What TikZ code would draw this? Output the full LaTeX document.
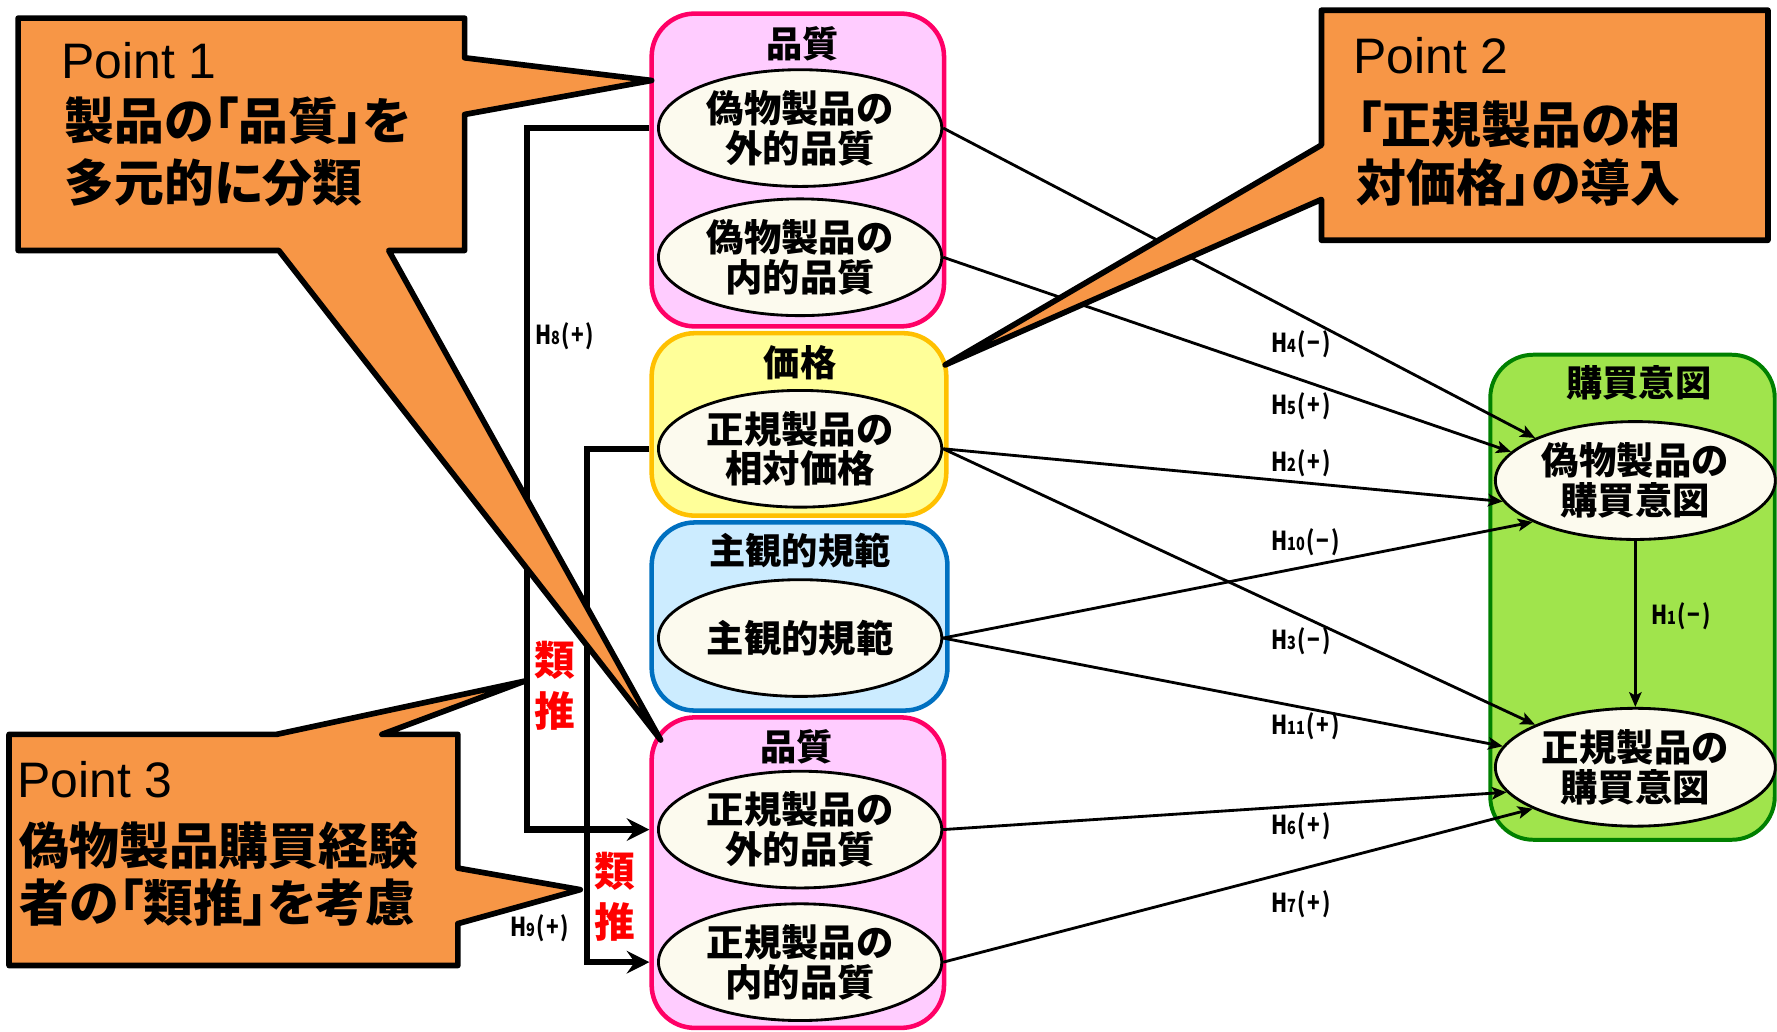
\documentclass[tikz,border=0pt]{standalone}
\usepackage{fontspec}
\setmainfont{Noto Sans CJK JP}
\newfontfamily\callfont{Noto Sans CJK JP}[RawFeature=+palt]
\newfontfamily\ptfont{Liberation Sans}
\newfontfamily\labfont{Noto Sans CJK JP}[FakeStretch=0.8]
\usetikzlibrary{shapes.geometric,arrows.meta}
\definecolor{orangeC}{HTML}{F79646}
\definecolor{pinkF}{HTML}{FFCCFF}
\definecolor{pinkD}{HTML}{FF0066}
\definecolor{yelF}{HTML}{FFFF99}
\definecolor{yelD}{HTML}{FFC000}
\definecolor{bluF}{HTML}{CCECFF}
\definecolor{bluD}{HTML}{0070C0}
\definecolor{grnF}{HTML}{A0E44C}
\definecolor{grnD}{HTML}{008000}
\definecolor{ellF}{HTML}{FCFAEE}
\newcommand{\hsub}[1]{{\fontsize{16}{16}\selectfont #1}}
\newcommand{\hpm}[1]{\kern1pt(\kern1.5pt#1\kern1.5pt)}
\begin{document}
\begin{tikzpicture}[x=1pt,y=-1pt,
  box/.style={draw, line width=4pt, rounded corners=38pt, inner sep=0pt},
  qbox/.style={box, draw=pinkD, fill=pinkF},
  pbox/.style={box, draw=yelD, fill=yelF},
  sbox/.style={box, draw=bluD, fill=bluF},
  gbox/.style={box, draw=grnD, fill=grnF, line width=3.5pt},
  ell/.style={ellipse, draw=black, line width=2.5pt, fill=ellF, minimum width=250pt, minimum height=103pt, inner sep=0pt, align=center, font=\bfseries\fontsize{33}{35}\selectfont},
  ttl/.style={font=\bfseries\fontsize{32}{32}\selectfont, inner sep=0pt},
  conn/.style={line width=2.5pt, -{Stealth[length=13pt,width=11pt,inset=3pt]}},
  bigarr/.style={line width=5.5pt, -{Stealth[length=20pt,width=20pt,inset=7pt]}},
  hlab/.style={font=\labfont\bfseries\fontsize{23}{23}\selectfont, inner sep=0pt, anchor=base west},
  callout/.style={draw=black, fill=orangeC, line width=5pt, line join=round},
  pt/.style={font=\ptfont\fontsize{44}{44}\selectfont, inner sep=0pt, anchor=base west},
  jl/.style={font=\callfont\bfseries\fontsize{44}{44}\selectfont, inner sep=0pt, anchor=base west},
  rui/.style={text=red, align=center, font=\bfseries\fontsize{36}{45}\selectfont, inner sep=0pt},
]
\useasboundingbox (0,0) rectangle (1568,910);

% group boxes
\node[qbox, minimum width=258pt, minimum height=276pt] (q1) at (704,150) {};
\node[pbox, minimum width=260pt, minimum height=161pt] (pr) at (705,374.5) {};
\node[sbox, minimum width=261pt, minimum height=166pt] (sn) at (705.5,544) {};
\node[qbox, minimum width=258pt, minimum height=274pt] (q2) at (704,770) {};
\node[gbox, minimum width=251pt, minimum height=428pt] (gr) at (1440.5,527) {};

% titles
\node[ttl] (t1) at (708,39) {品質};
\node[ttl] (t2) at (706,320) {価格};
\node[ttl] (t3) at (706,486) {主観的規範};
\node[ttl] (t4) at (703,659) {品質};
\node[ttl] (t5) at (1446,338) {購買意図};

% ellipses
\node[ell] (e1) at (706,113) {偽物製品の\\外的品質};
\node[ell] (e2) at (706,227) {偽物製品の\\内的品質};
\node[ell] (e3) at (706,396) {正規製品の\\相対価格};
\node[ell] (e4) at (706,563) {主観的規範};
\node[ell] (e5) at (706,732) {正規製品の\\外的品質};
\node[ell] (e6) at (706,849) {正規製品の\\内的品質};
\node[ell, minimum width=247pt, minimum height=104pt] (f1) at (1443,424) {偽物製品の\\購買意図};
\node[ell, minimum width=247pt, minimum height=104pt] (f2) at (1443,677) {正規製品の\\購買意図};

% hypothesis arrows
\draw[conn] (e1.east) -- (f1.157);
\draw[conn] (e2.east) -- (f1.167);
\draw[conn] (e3.east) -- (f1.189);
\draw[conn] (e4.east) -- (f1.202);
\draw[conn] (e3.east) -- (f2.157);
\draw[conn] (e4.east) -- (f2.171);
\draw[conn] (e5.east) -- (f2.191);
\draw[conn] (e6.east) -- (f2.202);
\draw[conn] (f1.south) -- (f2.north);

% analogy arrows
\coordinate (h8x) at (465,0);
\coordinate (h9x) at (518,0);
\draw[bigarr] (q1.west |- e1) -| (h8x |- e5) -- (q2.west |- e5);
\draw[bigarr] (pr.west |- e3) -| (h9x |- e6) -- (q2.west |- e6);

% labels
\node[hlab] (l4) at (1122,311) {H\hsub{4}\hpm{−}};
\node[hlab] (l5) at (1122,366) {H\hsub{5}\hpm{+}};
\node[hlab] (l2) at (1122,416) {H\hsub{2}\hpm{+}};
\node[hlab] (l10) at (1122,486) {H\hsub{10}\hpm{−}};
\node[hlab] (l3) at (1122,573) {H\hsub{3}\hpm{−}};
\node[hlab] (l11) at (1122,648) {H\hsub{11}\hpm{+}};
\node[hlab] (l6) at (1122,736) {H\hsub{6}\hpm{+}};
\node[hlab] (l7) at (1122,805) {H\hsub{7}\hpm{+}};
\node[hlab] (l1) at (1457,551) {H\hsub{1}\hpm{−}};
\node[hlab] (l8) at (472,304) {H\hsub{8}\hpm{+}};
\node[hlab] (l9) at (450,826) {H\hsub{9}\hpm{+}};

\node[rui] (r1) at (490,605) {類\\推};
\node[rui] (r2) at (543,791) {類\\推};

% callouts
\draw[callout] (16,16) -- (410,16) -- (410,51) -- (575,71) -- (410,101) -- (410,221) -- (343,221) -- (583,653) -- (246,221) -- (16,221) -- cycle;
\node[pt] (p1t) at (54,69) {Point 1};
\node[jl] (p1a) at (57,123) {製品の「品質」を};
\node[jl] (p1b) at (57,178) {多元的に分類};

\draw[callout] (1166,9) -- (1560,9) -- (1560,212) -- (1166,212) -- (1166,176) -- (834,322) -- (1166,128) -- cycle;
\node[pt] (p2t) at (1194,65) {Point 2};
\node[jl] (p2a) at (1197,127) {「正規製品の相};
\node[jl] (p2b) at (1197,178) {対価格」の導入};

\draw[callout] (8,648) -- (244,648) -- (463,601) -- (337,648) -- (404,648) -- (404,766) -- (512,785) -- (404,815) -- (404,852) -- (8,852) -- cycle;
\node[pt] (p3t) at (15,704) {Point 3};
\node[jl] (p3a) at (17,763) {偽物製品購買経験};
\node[jl] (p3b) at (17,813) {者の「類推」を考慮};
\end{tikzpicture}
\end{document}
